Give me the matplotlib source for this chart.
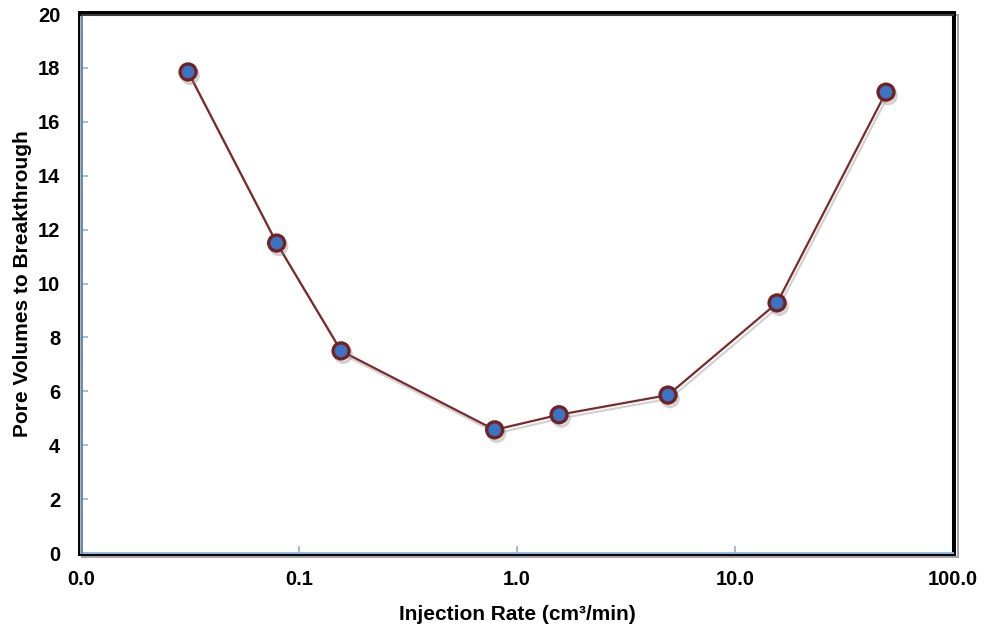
import numpy as np
import matplotlib.pyplot as plt
import matplotlib.patheffects as pe
from matplotlib.patches import Rectangle
from matplotlib.ticker import FixedLocator, NullLocator

plt.rcParams['font.family'] = ['Liberation Sans', 'DejaVu Sans']
plt.rcParams['font.weight'] = 'bold'

# injection rate (cm3/min) vs pore volumes to breakthrough
rate = [0.031, 0.079, 0.156, 0.79, 1.56, 4.93, 15.6, 49.3]
pvbt = [17.85, 11.5, 7.5, 4.57, 5.13, 5.86, 9.28, 17.1]

x_ticks = [0.01, 0.1, 1, 10, 100]
x_labels = ['0.0', '0.1', '1.0', '10.0', '100.0']
y_ticks = np.arange(0, 21, 2)

fs = 14.5
blue = '#8db3e2'

fig = plt.figure(figsize=(9.85, 6.28), dpi=100)
ax = fig.add_axes([0.0822, 0.1194, 0.8853, 0.8583])

shadow = [pe.SimpleLineShadow(offset=(1.5, -2.5), shadow_color='0.5', alpha=0.35), pe.Normal()]
ax.plot(rate, pvbt, color='#7a2a2a', lw=1.6, marker='o', ms=11.5,
        mfc='#3b74c4', mec='#722222', mew=2.4, path_effects=shadow, zorder=3)

ax.set_xscale('log')
ax.set_xlim(0.01, 100)
ax.set_ylim(0, 20)
ax.xaxis.set_major_locator(FixedLocator(x_ticks))
ax.xaxis.set_minor_locator(NullLocator())
ax.set_xticklabels(x_labels)
ax.set_yticks(y_ticks)

ax.tick_params(axis='both', direction='in', length=5, width=1.2, color=blue,
               labelsize=fs, right=False, top=False)
ax.tick_params(axis='y', pad=15)
ax.tick_params(axis='x', pad=12)
for lab in ax.get_xticklabels() + ax.get_yticklabels():
    lab.set_fontweight('bold')

# black frame with blue axis lines on left/bottom
for s in ['top', 'right']:
    ax.spines[s].set_color('black')
    ax.spines[s].set_linewidth(2.2)
for s in ['left', 'bottom']:
    ax.spines[s].set_color(blue)
    ax.spines[s].set_linewidth(2.0)
frame = Rectangle((-0.002, -0.003), 1.004, 1.006, transform=ax.transAxes, fill=False,
                  ec='black', lw=1.4, clip_on=False, zorder=5,
                  path_effects=[pe.SimpleLineShadow(offset=(2, -2), shadow_color='0.4', alpha=0.6), pe.Normal()])
ax.add_patch(frame)

ax.set_xlabel('Injection Rate (cm³/min)', fontsize=fs + 0.5, fontweight='bold', labelpad=12)
ax.set_ylabel('Pore Volumes to Breakthrough', fontsize=fs + 0.5, fontweight='bold', labelpad=4)

plt.savefig('out.png', dpi=100)
